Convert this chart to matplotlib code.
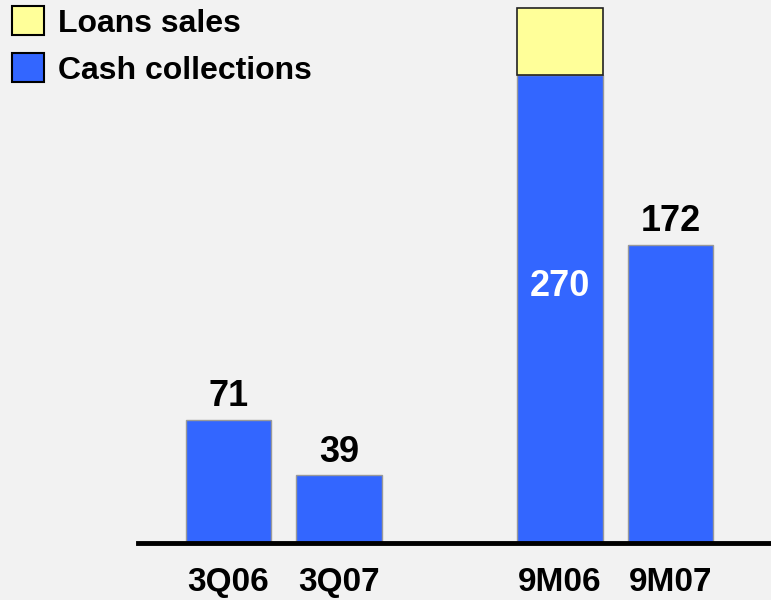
import numpy as np
import matplotlib.pyplot as plt
from matplotlib.patches import Patch

# --- data ---
periods     = ['3Q06', '3Q07', '9M06', '9M07']
positions   = [0, 1, 3, 4]
cash        = [71, 39, 270, 172]
loans       = [0, 0, 39, 0]

blue   = '#3366FF'
yellow = '#FFFF99'
bg     = '#F2F2F2'

plt.rcParams['font.family'] = ['Liberation Sans', 'DejaVu Sans']
plt.rcParams['font.weight'] = 'bold'

fig = plt.figure(figsize=(7.71, 6.0), dpi=100, facecolor=bg)
ax  = fig.add_axes([138/771, 57/600, 633/771, 543/600])
ax.set_facecolor(bg)

ax.bar(positions, cash, width=0.77, color=blue, edgecolor='#999999', linewidth=1)
pos_l  = [p for p, l in zip(positions, loans) if l > 0]
base_l = [c for c, l in zip(cash, loans) if l > 0]
val_l  = [l for l in loans if l > 0]
ax.bar(pos_l, val_l, bottom=base_l, width=0.77, color=yellow, edgecolor='#222222', linewidth=1.2)

# value labels
for p, c, l in zip(positions, cash, loans):
    if l > 0:
        ax.text(p, 148, str(c), ha='center', va='center', color='white',
                fontsize=26, fontweight='bold')
    else:
        ax.annotate(str(c), (p, c), xytext=(0, 4), textcoords='offset points',
                    ha='center', va='bottom', fontsize=26, fontweight='bold')

ax.set_xlim(-0.819, 4.91)
ax.set_ylim(0, 543/1.733)
ax.set_xticks(positions)
ax.set_xticklabels(periods, fontsize=24, fontweight='bold')
ax.tick_params(axis='x', length=0, pad=17)
ax.set_yticks([])
for s in ['top', 'right', 'left']:
    ax.spines[s].set_visible(False)
ax.spines['bottom'].set_linewidth(3.5)
ax.spines['bottom'].set_color('black')

handles = [Patch(facecolor=yellow, edgecolor='black', linewidth=1.5, label='Loans sales'),
           Patch(facecolor=blue, edgecolor='black', linewidth=1.5, label='Cash collections')]
fig.legend(handles=handles, loc='upper left', bbox_to_anchor=(6/771, 1.0),
           frameon=False, handlelength=1.0, handleheight=1.0,
           handletextpad=0.42, labelspacing=0.46, borderaxespad=0.0, borderpad=0.2,
           prop={'weight': 'bold', 'size': 23})

fig.savefig('out.png', dpi=100, facecolor=bg)
